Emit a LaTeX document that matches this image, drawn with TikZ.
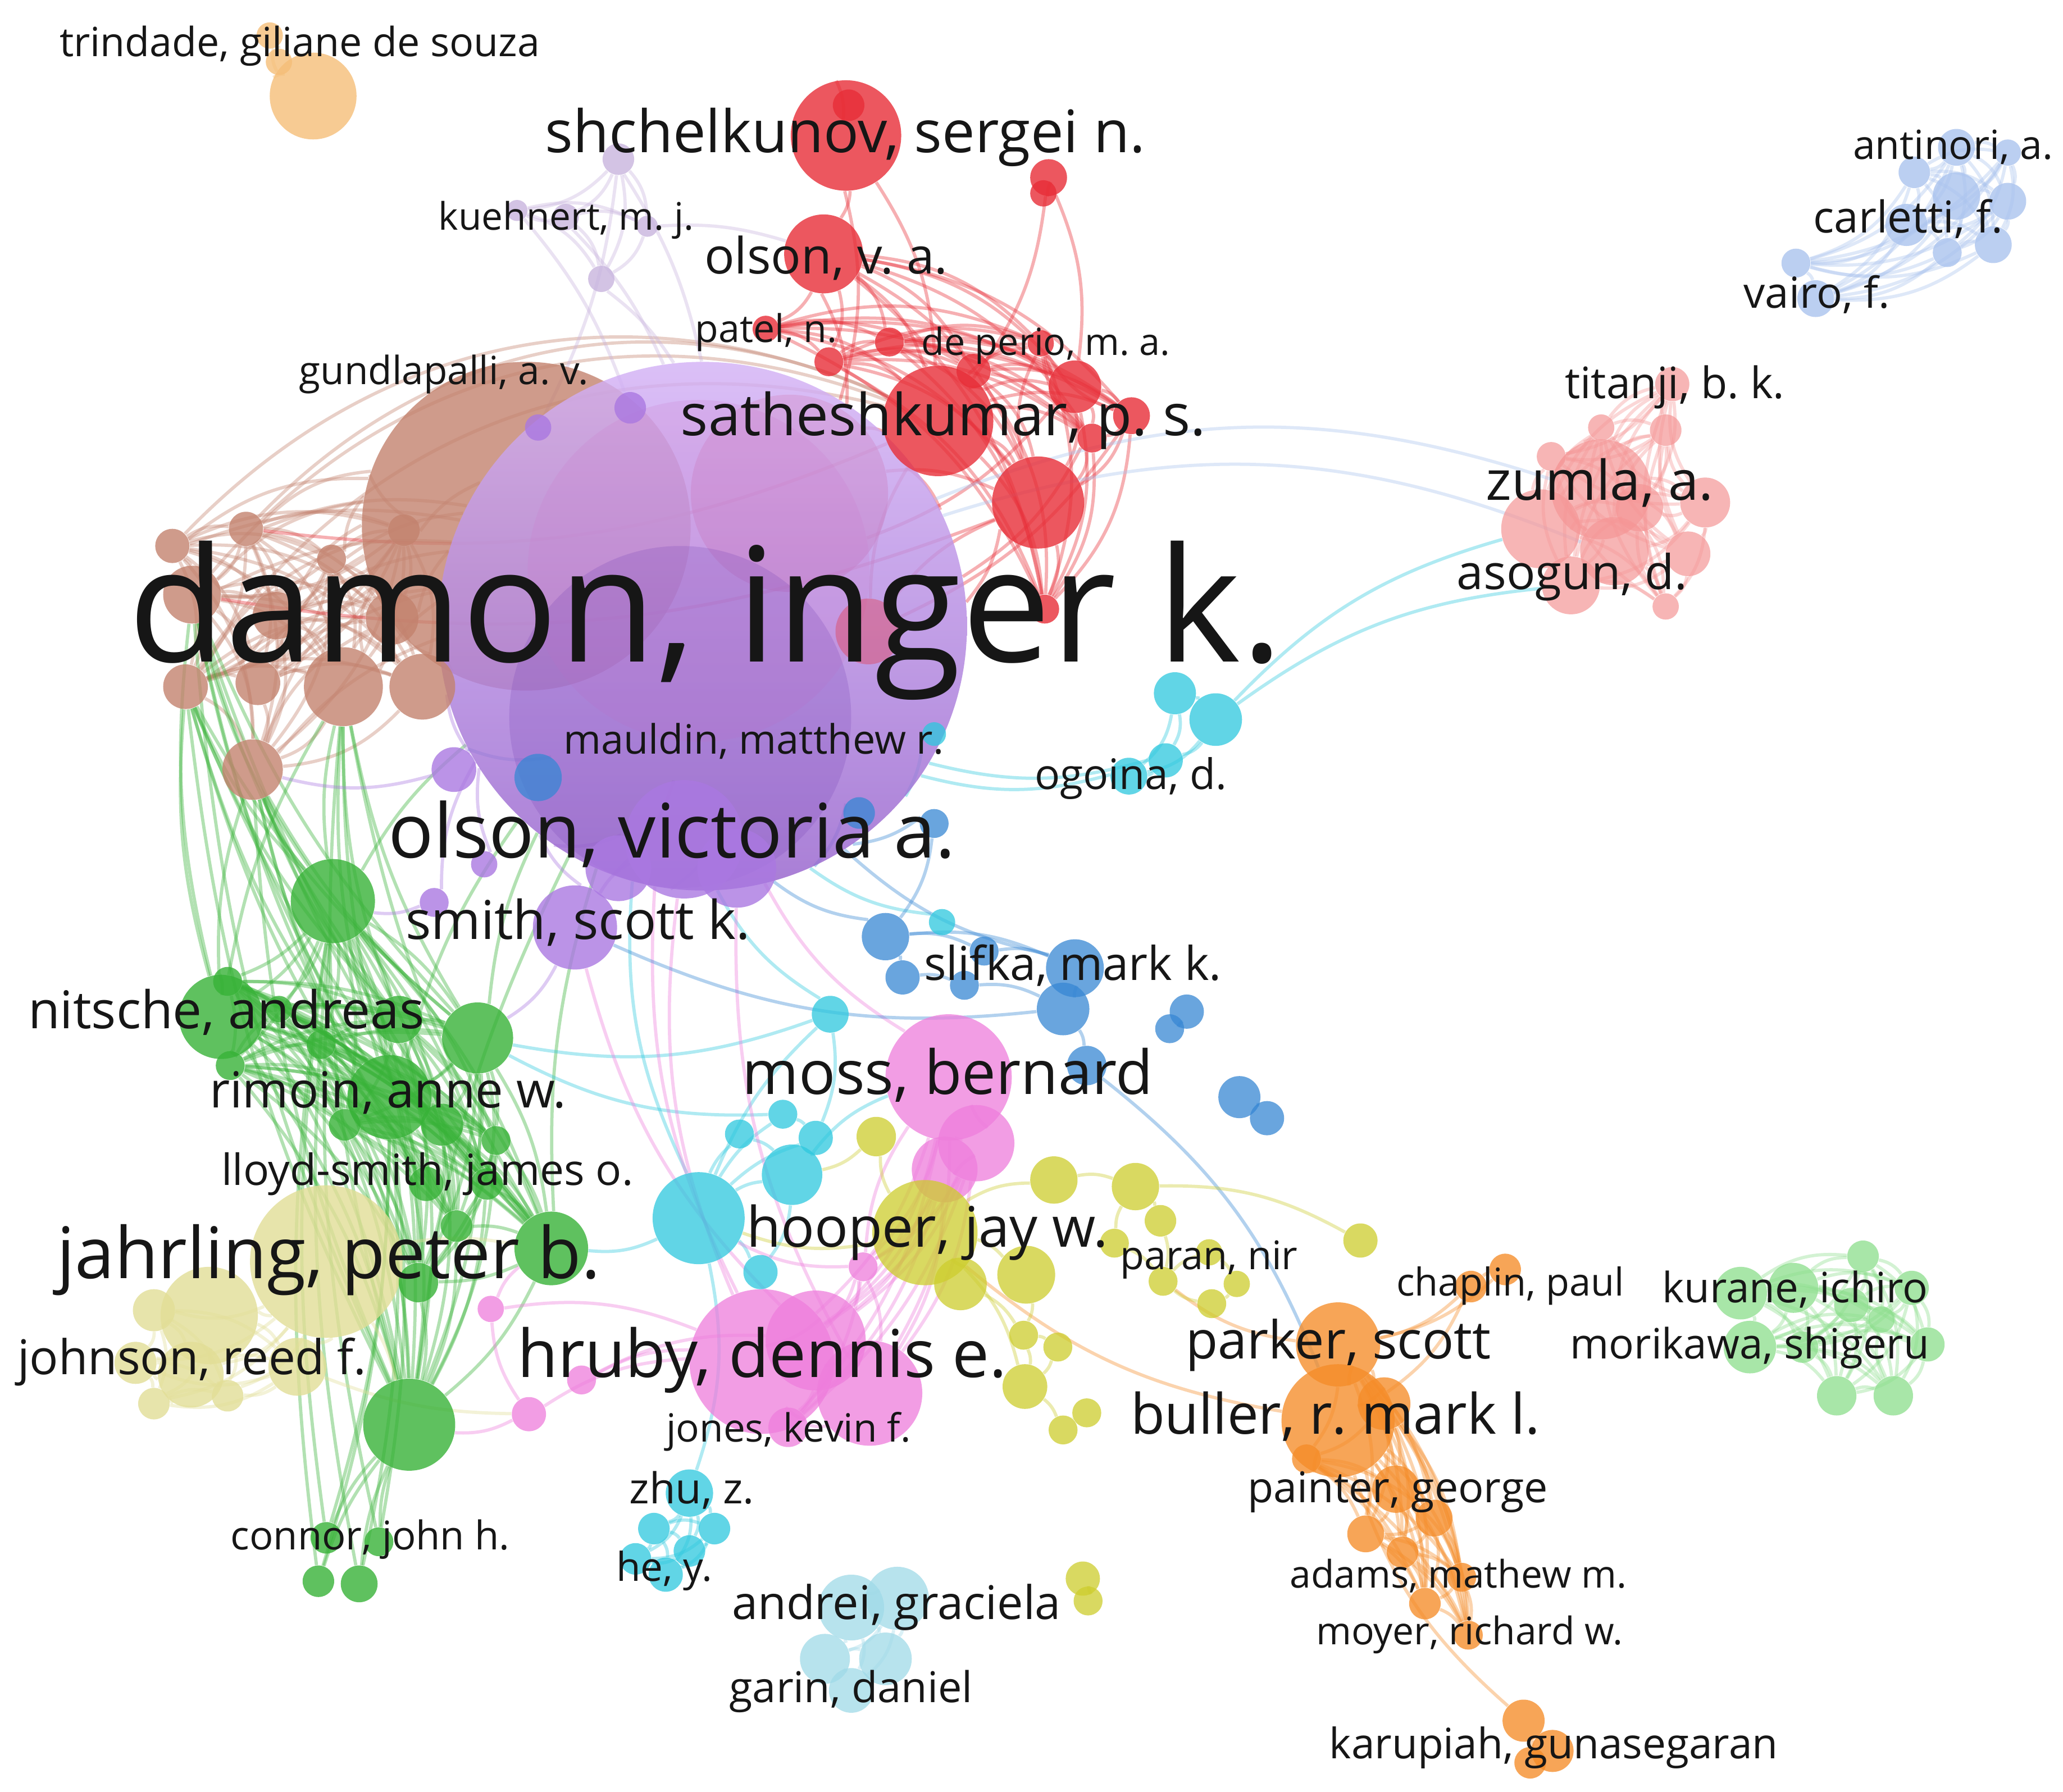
\documentclass[tikz,border=0pt]{standalone}
\usepackage{fontspec}
\setmainfont{Open Sans}
\usepackage{graphicx}
\usetikzlibrary{backgrounds}
\frenchspacing
\newlength\pxu \setlength\pxu{0.02cm}
\definecolor{cPur}{RGB}{170,120,225}
\definecolor{cPurT}{RGB}{212,178,246}
\definecolor{cPurB}{RGB}{150,98,205}
\definecolor{cPurD}{RGB}{125,75,185}
\definecolor{cPurP}{RGB}{205,125,205}
\definecolor{cBrn}{RGB}{195,130,110}
\definecolor{cRed}{RGB}{232,45,55}
\definecolor{cSal}{RGB}{245,150,150}
\definecolor{cLbl}{RGB}{170,195,238}
\definecolor{cCya}{RGB}{45,200,222}
\definecolor{cLcy}{RGB}{160,218,232}
\definecolor{cBlu}{RGB}{55,135,212}
\definecolor{cPnk}{RGB}{238,125,220}
\definecolor{cYel}{RGB}{205,205,45}
\definecolor{cKha}{RGB}{226,222,150}
\definecolor{cGrn}{RGB}{55,178,55}
\definecolor{cLgr}{RGB}{140,222,140}
\definecolor{cOrg}{RGB}{245,140,40}
\definecolor{cLor}{RGB}{245,190,120}
\definecolor{cLav}{RGB}{200,180,222}
\definecolor{labc}{RGB}{22,22,22}
\tikzset{
  nd/.style={circle,inner sep=0pt,draw=none,fill opacity=0.8},
  lnk/.style={line width=1.4pt,draw opacity=0.38},
  lab/.style={anchor=base west,inner sep=0pt,text=labc}
}
\newcommand\allpairs[5]{\foreach \i in {#2,...,#3}{\foreach \j in {#2,...,#3}{\ifnum\i<\j\relax\draw[lnk,#4] (#1\i) to[bend left=#5] (#1\j);\fi}}}
\newcommand\lbl[5]{\node[lab] (#1) at (#2,#3) {\resizebox{#4\pxu}{!}{#5}};}
\begin{document}
\begin{tikzpicture}[x=0.02cm,y=-0.02cm]
\useasboundingbox (0,0) rectangle (1568,1362);
% big nodes first
\node[nd,fill=cBrn,minimum size=125*0.04cm] (b0) at (400,400) {};
\node[nd,fill=cRed,fill opacity=0.5,minimum size=75*0.04cm] (r18) at (600,375) {};
\node[circle,inner sep=0pt,draw=none,top color=cPurT,bottom color=cPurB,fill opacity=0.82,minimum size=201*0.04cm] (p0) at (534,476) {};
\node[nd,fill=cPurP,fill opacity=0.22,minimum size=130*0.04cm] (p2) at (531,434) {};
\node[nd,fill=cPurD,fill opacity=0.25,minimum size=130*0.04cm] (p1) at (517,545) {};
\node[nd,fill=cKha,minimum size=58*0.04cm] (k1) at (248,959) {};
% purple
\foreach \n/\x/\y/\r in {p3/437/705/32,p4/520/638/45,p5/560/660/30,p6/470/660/25,p7/345/585/17,p8/330/686/11,p9/368/657/10,p10/479/310/12,p11/409/325/10}
  {\node[nd,fill=cPur,minimum size=\r*0.04cm] (\n) at (\x,\y) {};}
% brown
\foreach \n/\x/\y/\r in {b1/131/415/13,b2/187/402/13,b3/252/425/11,b4/307/403/12,b5/146/452/22,b6/210/468/18,b7/141/522/17,b8/196/519/17,b9/261/522/30,b10/321/522/25,b11/192/585/23,b12/298/470/20}
  {\node[nd,fill=cBrn,minimum size=\r*0.04cm] (\n) at (\x,\y) {};}
% red
\foreach \n/\x/\y/\r in {r1/643/103/42,r2/645/80/12,r3/797/135/14,r4/793/147/10,r5/626/193/30,r6/582/250/10,r7/630/275/11,r8/676/260/11,r9/740/282/13,r10/713/320/42,r11/817/294/20,r12/860/316/14,r13/830/333/11,r14/789/382/35,r15/791/261/10,r16/794/463/11}
  {\node[nd,fill=cRed,minimum size=\r*0.04cm] (\n) at (\x,\y) {};}
\node[nd,fill=cRed,fill opacity=0.35,minimum size=25*0.04cm] (r17) at (660,480) {};
% zumla
\foreach \n/\x/\y/\r in {z1/1217/372/38,z2/1171/402/30,z3/1296/382/19,z4/1283/421/17,z5/1227/419/26,z6/1194/445/22,z7/1266/461/10,z8/1217/325/10,z9/1266/327/12,z10/1271/292/13,z11/1179/347/11,z12/1246/386/18}
  {\node[nd,fill=cSal,fill opacity=0.7,minimum size=\r*0.04cm] (\n) at (\x,\y) {};}
% light blue
\foreach \n/\x/\y/\r in {a1/1487/112/14,a2/1455/131/12,a3/1526/116/10,a4/1487/149/18,a5/1526/153/14,a6/1449/171/16,a7/1480/192/11,a8/1515/186/14,a9/1365/200/11,a10/1380/227/14}
  {\node[nd,fill=cLbl,minimum size=\r*0.04cm] (\n) at (\x,\y) {};}
% trindade
\foreach \n/\x/\y/\r in {t1/238/73/33,t2/205/27/10,t3/212/47/10}
  {\node[nd,fill=cLor,minimum size=\r*0.04cm] (\n) at (\x,\y) {};}
% lavender
\foreach \n/\x/\y/\r in {v1/470/121/12,v2/430/165/10,v3/393/160/8,v4/492/172/8,v5/457/212/10}
  {\node[nd,fill=cLav,minimum size=\r*0.04cm] (\n) at (\x,\y) {};}
% khaki
\foreach \n/\x/\y/\r in {k2/159/1000/37,k3/117/996/16,k4/145/1045/25,k5/226/1039/22,k6/103/1036/16,k7/117/1067/12,k8/173/1061/12}
  {\node[nd,fill=cKha,minimum size=\r*0.04cm] (\n) at (\x,\y) {};}
% green
\foreach \n/\x/\y/\r in {g1/253/685/32,g2/168/773/32,g3/173/746/11,g4/175/810/11,g5/212/767/10,g6/244/794/11,g7/303/775/18,g8/363/789/27,g9/296/834/32,g10/262/855/12,g11/336/855/16,g12/377/867/11,g13/370/900/12,g14/347/932/12,g15/419/949/28,g16/318/975/15,g17/311/1083/35,g18/248/1169/12,g19/288/1172/11,g20/242/1202/12,g21/273/1204/14,g22/324/900/13}
  {\node[nd,fill=cGrn,minimum size=\r*0.04cm] (\n) at (\x,\y) {};}
% pink
\foreach \n/\x/\y/\r in {m1/721/819/48,m5/579/1035/55,m6/620/1019/38,m7/661/1059/40,m2/742/869/29,m3/718/889/25,m4/656/963/11,m8/599/1085/15,m9/373/995/10,m10/402/1075/13,m11/442/1049/11}
  {\node[nd,fill=cPnk,fill opacity=0.75,minimum size=\r*0.04cm] (\n) at (\x,\y) {};}
% cyan
\foreach \n/\x/\y/\r in {c1/531/926/35,c2/631/771/14,c3/595/847/11,c4/562/862/11,c5/620/865/13,c6/602/893/23,c7/578/967/13,c8/716/701/10,c9/710/558/9,c10/893/527/16,c11/924/547/20,c12/886/578/13,c13/858/590/14,c14/524/1135/18,c15/497/1162/12,c16/543/1162/12,c17/524/1179/12,c18/483/1185/12,c19/506/1197/13}
  {\node[nd,fill=cCya,fill opacity=0.75,minimum size=\r*0.04cm] (\n) at (\x,\y) {};}
% light cyan
\foreach \n/\x/\y/\r in {n1/647/1222/25,n2/682/1215/24,n3/627/1261/19,n4/673/1261/20,n5/647/1285/17}
  {\node[nd,fill=cLcy,fill opacity=0.75,minimum size=\r*0.04cm] (\n) at (\x,\y) {};}
% blue
\foreach \n/\x/\y/\r in {u1/673/712/18,u2/686/743/13,u3/748/723/11,u4/733/749/11,u5/817/736/22,u6/808/767/20,u7/902/769/13,u8/889/782/11,u9/826/810/15,u10/942/834/16,u11/963/850/13,u12/409/591/18,u13/710/626/11,u14/653/618/12}
  {\node[nd,fill=cBlu,fill opacity=0.75,minimum size=\r*0.04cm] (\n) at (\x,\y) {};}
% yellow
\foreach \n/\x/\y/\r in {y1/703/937/40,y2/666/864/15,y3/730/976/20,y4/780/969/22,y5/801/897/18,y6/863/902/18,y7/882/928/12,y8/847/945/11,y9/884/974/11,y10/919/952/10,y11/940/976/10,y12/921/991/11,y13/1034/943/13,y14/778/1015/11,y15/804/1024/11,y16/779/1054/17,y17/808/1087/11,y18/826/1074/11,y19/823/1200/13,y20/827/1217/11}
  {\node[nd,fill=cYel,fill opacity=0.75,minimum size=\r*0.04cm] (\n) at (\x,\y) {};}
% orange
\foreach \n/\x/\y/\r in {o2/1017/1080/43,o1/1017/1022/32,o3/1052/1067/20,o4/993/1109/11,o5/1061/1132/18,o6/1090/1154/14,o7/1038/1166/14,o8/1066/1180/12,o9/1111/1199/11,o10/1083/1219/12,o11/1116/1243/11,o12/1118/978/12,o13/1144/965/12,o14/1158/1308/16,o15/1180/1331/16,o16/1163/1340/12}
  {\node[nd,fill=cOrg,fill opacity=0.78,minimum size=\r*0.04cm] (\n) at (\x,\y) {};}
% light green
\foreach \n/\x/\y/\r in {l1/1323/983/20,l2/1363/979/19,l3/1416/955/12,l4/1407/992/13,l5/1453/979/13,l6/1330/1024/20,l7/1370/1024/12,l8/1465/1022/13,l9/1396/1061/15,l10/1439/1061/15,l11/1430/1003/10}
  {\node[nd,fill=cLgr,fill opacity=0.75,minimum size=\r*0.04cm] (\n) at (\x,\y) {};}
% ---------------- links
\begin{scope}[on background layer]
\fill[white] (0,0) rectangle (1568,1362);
\allpairs{b}{1}{12}{cBrn}{20}
\foreach \i in {1,...,12}{\draw[lnk,cBrn] (b\i) to[bend left=20] (b0); \draw[lnk,cBrn] (b\i) to[bend left=15] (p0);}
\foreach \i in {1,2,5,7}{\draw[lnk,cBrn] (b\i) to[bend left=35] (r10);}
\allpairs{g}{1}{17}{cGrn}{12}
\foreach \i in {18,...,21}{\draw[lnk,cGrn] (g\i) to[bend left=10] (g17); \draw[lnk,cGrn] (g\i) to[bend left=8] (g1); \draw[lnk,cGrn] (g\i) to[bend right=8] (g9);}
\foreach \i in {1,2,7,8,9,15,17,22}{\foreach \j in {5,7,9,11}{\draw[lnk,cGrn] (g\i) to[bend left=10] (b\j);}}
\foreach \i in {1,8,9,15,17}{\draw[lnk,cGrn] (g\i) to[bend left=10] (p0);}
\allpairs{k}{1}{8}{cKha}{20}
\draw[lnk,cKha] (k1) to[bend left=10] (g15);
\draw[lnk,cKha] (k1) to[bend left=10] (g17);
\draw[lnk,cKha] (k5) to[bend right=10] (m10);
\allpairs{r}{5}{16}{cRed}{20}
\foreach \a/\b in {r1/r5,r1/r10,r1/r2,r3/r4,r3/r10,r3/r11,r1/p0,r5/p0,r10/p0,r14/p0,r13/p0,r17/r10,r17/r14,r10/b2,r14/b5,r11/p2,r12/r17,r18/r10,r18/r14}
  {\draw[lnk,cRed] (\a) to[bend left=15] (\b);}
\allpairs{z}{1}{12}{cSal}{20}
\allpairs{a}{1}{10}{cLbl}{20}
\allpairs{l}{1}{11}{cLgr}{20}
\allpairs{o}{1}{11}{cOrg}{15}
\foreach \a/\b in {o12/o1,o13/o1,o12/o13,o14/o15,o15/o16,o14/o16,o12/o2,o14/o2,o1/y9,o2/y1}
  {\draw[lnk,cOrg] (\a) to[bend left=15] (\b);}
\allpairs{n}{1}{5}{cLcy}{20}
\allpairs{v}{1}{5}{cLav}{20}
\foreach \a/\b in {v1/p0,v5/p0,v2/p0,v4/r5,v3/p10,v1/p11}
  {\draw[lnk,cLav] (\a) to[bend left=10] (\b);}
\allpairs{t}{1}{3}{cLor}{20}
\foreach \i in {2,...,7}{\draw[lnk,cCya] (c1) to[bend left=12] (c\i);}
\allpairs{c}{14}{19}{cCya}{20}
\allpairs{c}{10}{13}{cCya}{20}
\foreach \a/\b in {c2/c5,c3/c5,c4/c6,c5/c6,c6/c7,c1/p0,c1/c14,c11/z2,c11/z6,c12/p0,c13/p0,c8/p0,c9/p0,c2/p0,c3/g8,c1/g15,c2/g8,c6/m1}
  {\draw[lnk,cCya] (\a) to[bend left=15] (\b);}
\foreach \a/\b in {p0/z1,p0/z5}{\draw[lnk,cLbl] (\a) to[bend left=20] (\b);}
\allpairs{m}{1}{8}{cPnk}{15}
\foreach \a/\b in {m9/m5,m10/m5,m11/m5,m10/m9,m9/g15,m10/g17,m11/m6,m5/p0,m6/p3,m1/p0,m4/m1,m4/c1,m5/p4,m7/p5}
  {\draw[lnk,cPnk] (\a) to[bend left=15] (\b);}
\foreach \a/\b in {u1/u2,u1/u3,u2/u4,u3/u5,u5/u6,u4/u6,u7/u8,u10/u11,u6/u9,u1/u5,u1/p0,u5/p0,u12/p0,u13/p0,u14/p0,u9/o2,u13/u1,u6/p3}
  {\draw[lnk,cBlu] (\a) to[bend left=15] (\b);}
\foreach \a/\b in {y1/y2,y1/y3,y1/y4,y1/y5,y5/y6,y6/y7,y7/y9,y8/y9,y9/y10,y10/y11,y11/y12,y12/y9,y4/y14,y14/y15,y14/y16,y15/y16,y16/y17,y17/y18,y1/y16,y3/y14,y6/y13,y19/y20,y1/c1,y2/c6,y8/y6}
  {\draw[lnk,cYel] (\a) to[bend left=15] (\b);}
\foreach \i in {3,...,9}{\draw[lnk,cPur] (p\i) to[bend left=15] (p0);}
\foreach \a/\b in {p3/p4,p3/p6,p7/b11,p8/g1,p3/g8}
  {\draw[lnk,cPur] (\a) to[bend left=15] (\b);}
\end{scope}
% ---------------- labels
\lbl{Ltri}{45}{43}{365}{trindade, giliane de souza}
\lbl{Lshc}{414}{116}{456}{shchelkunov, sergei n.}
\lbl{Lkue}{333}{175}{194}{kuehnert, m. j.}
\lbl{Lolv}{535}{208}{185}{olson, v. a.}
\lbl{Lant}{1408}{121}{152}{antinori, a.}
\lbl{Lcar}{1378}{177}{144}{carletti, f.}
\lbl{Lvai}{1325}{234}{111}{vairo, f.}
\lbl{Lpat}{528}{260}{108}{patel, n.}
\lbl{Ldep}{700}{270}{189}{de perio, m. a.}
\lbl{Lgun}{227}{292}{220}{gundlapalli, a. v.}
\lbl{Lsat}{517}{331}{399}{satheshkumar, p. s.}
\lbl{Ltit}{1189}{303}{167}{titanji, b. k.}
\lbl{Lzum}{1129}{380}{173}{zumla, a.}
\lbl{Laso}{1107}{448}{175}{asogun, d.}
\lbl{Ldam}{97}{503}{878}{damon, inger k.}
\lbl{Lmau}{428}{573}{289}{mauldin, matthew r.}
\lbl{Logo}{786}{600}{146}{ogoina, d.}
\lbl{Lolvi}{295}{652}{431}{olson, victoria a.}
\lbl{Lsmi}{308}{714}{262}{smith, scott k.}
\lbl{Lsli}{702}{745}{226}{slifka, mark k.}
\lbl{Lnit}{21}{782}{301}{nitsche, andreas}
\lbl{Lmos}{564}{832}{312}{moss, bernard}
\lbl{Lrim}{159}{842}{271}{rimoin, anne w.}
\lbl{Llly}{168}{901}{313}{lloyd-smith, james o.}
\lbl{Lhoo}{567}{948}{275}{hooper, jay w.}
\lbl{Ljah}{43}{972}{413}{jahrling, peter b.}
\lbl{Lpar}{851}{965}{135}{paran, nir}
\lbl{Lcha}{1061}{985}{173}{chaplin, paul}
\lbl{Lkur}{1263}{990}{202}{kurane, ichiro}
\lbl{Lpark}{901}{1033}{232}{parker, scott}
\lbl{Lmor}{1193}{1033}{273}{morikawa, shigeru}
\lbl{Ljoh}{13}{1045}{265}{johnson, reed f.}
\lbl{Lhru}{393}{1047}{372}{hruby, dennis e.}
\lbl{Lbul}{859}{1090}{311}{buller, r. mark l.}
\lbl{Ljon}{506}{1096}{186}{jones, kevin f.}
\lbl{Lpai}{948}{1142}{228}{painter, george}
\lbl{Lzhu}{478}{1143}{95}{zhu, z.}
\lbl{Lcon}{175}{1178}{212}{connor, john h.}
\lbl{Lada}{980}{1207}{256}{adams, mathew m.}
\lbl{Lhe}{468}{1202}{73}{he, y.}
\lbl{Land}{556}{1231}{250}{andrei, graciela}
\lbl{Lmoy}{1000}{1250}{233}{moyer, richard w.}
\lbl{Lgar}{554}{1294}{185}{garin, daniel}
\lbl{Lkar}{1010}{1337}{341}{karupiah, gunasegaran}
\end{tikzpicture}
\end{document}
